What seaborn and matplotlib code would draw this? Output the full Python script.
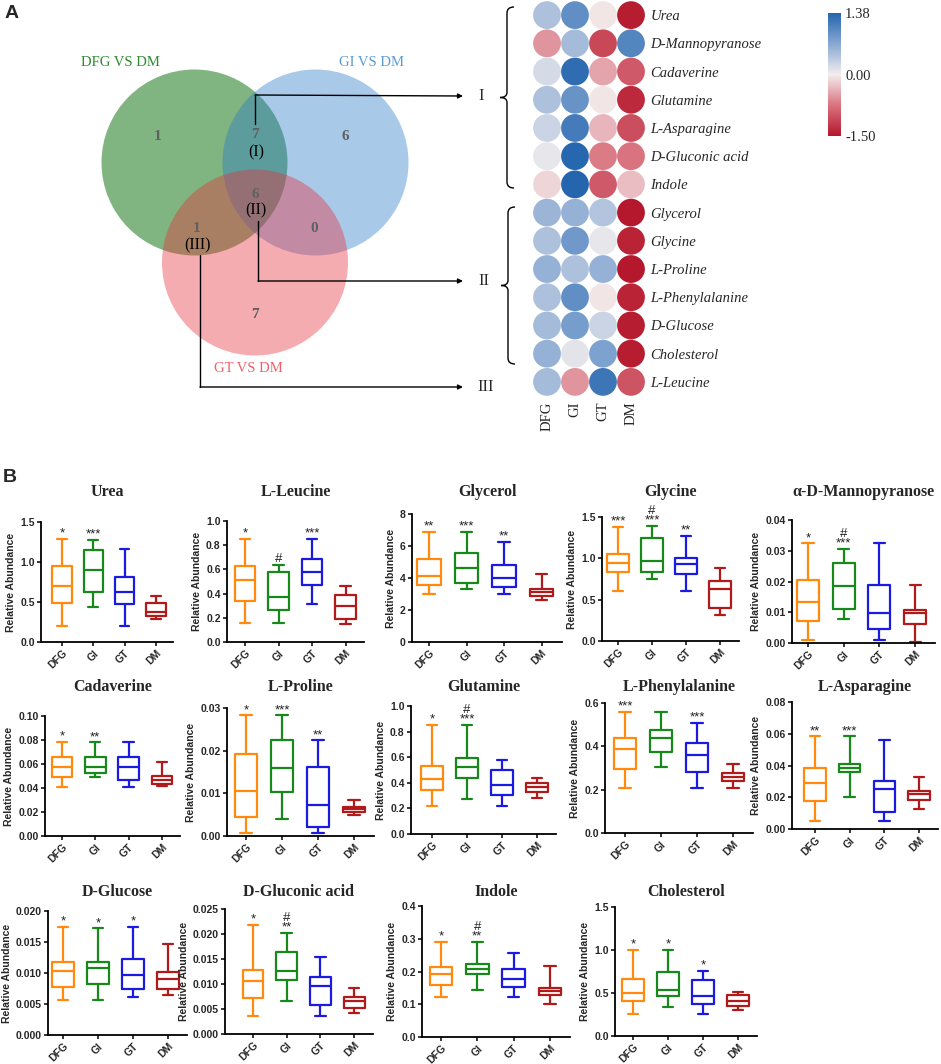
import numpy as np
import pandas as pd
import matplotlib
matplotlib.use('Agg')
import matplotlib.pyplot as plt
import seaborn as sns
from matplotlib.patches import Circle, PathPatch
from matplotlib.path import Path
from matplotlib.colors import LinearSegmentedColormap, TwoSlopeNorm
from matplotlib.cm import ScalarMappable
from matplotlib.ticker import MultipleLocator, FormatStrFormatter

W, H = 941, 1064
sns.set_style('white')
plt.rcParams['font.family'] = ['Liberation Sans', 'DejaVu Sans']
SERIF = ['Liberation Serif', 'DejaVu Serif']

# ---------------- data ----------------
groups = ['DFG', 'GI', 'GT', 'DM']
group_colors = ['#ff8a0d', '#17891a', '#1a1ae0', '#b01a1a']

venn_sets = ['DFG VS DM', 'GI VS DM', 'GT VS DM']
venn_regions = ['DFG', 'DFG&GI', 'GI', 'DFG&GI&GT', 'DFG&GT', 'GI&GT', 'GT']
venn_counts = [1, 7, 6, 6, 1, 0, 7]
cluster_labels = ['I', 'II', 'III']

heat_metabolites = ['Urea', 'D-Mannopyranose', 'Cadaverine', 'Glutamine', 'L-Asparagine',
                    'D-Gluconic acid', 'Indole', 'Glycerol', 'Glycine', 'L-Proline',
                    'L-Phenylalanine', 'D-Glucose', 'Cholesterol', 'L-Leucine']
heat_DFG = [0.45, -0.55, 0.20, 0.45, 0.25, 0.08, -0.15, 0.55, 0.45, 0.60, 0.45, 0.50, 0.60, 0.50]
heat_GI = [0.95, 0.50, 1.30, 0.90, 1.15, 1.35, 1.38, 0.60, 0.85, 0.45, 0.95, 0.80, 0.10, -0.55]
heat_GT = [-0.05, -1.10, -0.45, -0.05, -0.35, -0.70, -0.95, 0.40, 0.08, 0.60, -0.05, 0.25, 0.75, 1.20]
heat_DM = [-1.45, 1.05, -0.95, -1.35, -1.05, -0.75, -0.30, -1.50, -1.40, -1.50, -1.40, -1.45, -1.45, -1.00]
heat_vmin, heat_vmax = -1.50, 1.38

# box summaries per group: [min, q1, median, q3, max]
box_titles = ['Urea', 'L-Leucine', 'Glycerol', 'Glycine', 'α-D-Mannopyranose',
              'Cadaverine', 'L-Proline', 'Glutamine', 'L-Phenylalanine', 'L-Asparagine',
              'D-Glucose', 'D-Gluconic acid', 'Indole', 'Cholesterol']
urea = [[0.195, 0.485, 0.70, 0.95, 1.29], [0.435, 0.62, 0.90, 1.15, 1.28],
        [0.195, 0.47, 0.63, 0.81, 1.16], [0.29, 0.33, 0.38, 0.485, 0.57]]
leucine = [[0.157, 0.34, 0.51, 0.63, 0.85], [0.157, 0.265, 0.375, 0.58, 0.64],
           [0.315, 0.47, 0.58, 0.685, 0.85], [0.15, 0.19, 0.30, 0.39, 0.46]]
glycerol = [[2.97, 3.56, 4.15, 5.2, 6.9], [3.33, 3.7, 4.65, 5.55, 6.9],
            [2.97, 3.46, 3.98, 4.8, 6.28], [2.62, 2.87, 3.1, 3.29, 4.25]]
glycine = [[0.605, 0.83, 0.94, 1.05, 1.38], [0.75, 0.84, 0.97, 1.25, 1.39],
           [0.605, 0.815, 0.935, 1.0, 1.27], [0.32, 0.40, 0.63, 0.73, 0.88]]
mannopyranose = [[0.0011, 0.0072, 0.0133, 0.0205, 0.0324], [0.0078, 0.0111, 0.0186, 0.026, 0.0305],
                 [0.0011, 0.0044, 0.0097, 0.0188, 0.0324], [0.0002, 0.0062, 0.0097, 0.0108, 0.0187]]
cadaverine = [[0.0406, 0.0494, 0.0578, 0.0656, 0.0783], [0.0494, 0.0522, 0.0572, 0.0656, 0.078],
              [0.0406, 0.047, 0.0578, 0.0656, 0.078], [0.0417, 0.0433, 0.047, 0.050, 0.062]]
proline = [[0.0006, 0.0045, 0.0106, 0.0193, 0.0283], [0.004, 0.0103, 0.0159, 0.0226, 0.0283],
           [0.0006, 0.0022, 0.0073, 0.0162, 0.0224], [0.0049, 0.0056, 0.0063, 0.0069, 0.0085]]
glutamine = [[0.22, 0.345, 0.43, 0.535, 0.85], [0.27, 0.44, 0.52, 0.59, 0.85],
             [0.22, 0.305, 0.38, 0.50, 0.575], [0.28, 0.332, 0.366, 0.395, 0.44]]
phenylalanine = [[0.21, 0.294, 0.388, 0.438, 0.56], [0.303, 0.376, 0.438, 0.476, 0.56],
                 [0.21, 0.281, 0.36, 0.417, 0.507], [0.21, 0.24, 0.26, 0.275, 0.317]]
asparagine = [[0.005, 0.0177, 0.0288, 0.0383, 0.0583], [0.020, 0.0356, 0.0387, 0.0408, 0.0583],
              [0.005, 0.0105, 0.0253, 0.0303, 0.0558], [0.0124, 0.0183, 0.0219, 0.0242, 0.033]]
glucose = [[0.0056, 0.0077, 0.0103, 0.0118, 0.0175], [0.0056, 0.0082, 0.0108, 0.0118, 0.0172],
           [0.0062, 0.0075, 0.0096, 0.0123, 0.0175], [0.0064, 0.0075, 0.0091, 0.0101, 0.0146]]
gluconic = [[0.0037, 0.0073, 0.0107, 0.0128, 0.0218], [0.0066, 0.0109, 0.0127, 0.0165, 0.0203],
            [0.0037, 0.0058, 0.0097, 0.0115, 0.0155], [0.0043, 0.0052, 0.0067, 0.0075, 0.0093]]
indole = [[0.123, 0.160, 0.193, 0.215, 0.290], [0.145, 0.193, 0.208, 0.222, 0.290],
          [0.123, 0.152, 0.178, 0.208, 0.255], [0.100, 0.128, 0.140, 0.150, 0.217]]
cholesterol = [[0.26, 0.41, 0.495, 0.662, 1.0], [0.34, 0.46, 0.534, 0.74, 1.0],
               [0.26, 0.37, 0.464, 0.65, 0.76], [0.304, 0.35, 0.41, 0.48, 0.506]]
box_stats = [urea, leucine, glycerol, glycine, mannopyranose, cadaverine, proline, glutamine,
             phenylalanine, asparagine, glucose, gluconic, indole, cholesterol]

box_sig = [['*', '***', '', ''], ['*', '#', '***', ''], ['**', '***', '**', ''],
           ['***', '#\n***', '**', ''], ['*', '#\n***', '', ''], ['*', '**', '', ''],
           ['*', '***', '**', ''], ['*', '#\n***', '', ''], ['***', '', '***', ''],
           ['**', '***', '', ''], ['*', '*', '*', ''], ['*', '#\n**', '', ''],
           ['*', '#\n**', '', ''], ['*', '*', '*', '']]
box_ymax = [1.5, 1.0, 8, 1.5, 0.04, 0.10, 0.03, 1.0, 0.6, 0.08, 0.020, 0.025, 0.4, 1.5]
box_ystep = [0.5, 0.2, 2, 0.5, 0.01, 0.02, 0.01, 0.2, 0.2, 0.02, 0.005, 0.005, 0.1, 0.5]
box_yfmt = ['%.1f', '%.1f', '%d', '%.1f', '%.2f', '%.2f', '%.2f', '%.1f', '%.1f', '%.2f',
            '%.3f', '%.3f', '%.1f', '%.1f']

# ---------------- layout (pixels) ----------------
# left spine, first category centre, category spacing, top, bottom, title y
box_layout = [
    (41, 62, 31.3, 522, 642, 492), (227, 245, 33.5, 521, 642, 492),
    (412, 429, 37.5, 514, 642, 492), (602, 618, 34, 517, 641, 492),
    (792, 808, 35.7, 520, 643, 492),
    (45, 62, 33.3, 716, 836, 687), (227, 246, 36, 708, 836, 687),
    (411, 432, 35, 706, 834, 687), (605, 625, 36, 703, 833, 687),
    (792, 815, 34.7, 702, 829, 687),
    (48, 63, 35, 911, 1035, 892), (225, 253, 33.7, 909, 1034, 892),
    (422, 441, 36.3, 906, 1037, 892), (615, 633, 35, 907, 1036, 892),
]


def px_rect(left, top, right, bottom):
    return [left / W, 1 - bottom / H, (right - left) / W, (bottom - top) / H]


fig = plt.figure(figsize=(W / 100, H / 100), dpi=100)

# ---------------- overlay (venn, arrows, braces) ----------------
ov = fig.add_axes([0, 0, 1, 1])
ov.set_xlim(0, W)
ov.set_ylim(H, 0)
ov.axis('off')
ov.patch.set_alpha(0)

venn_circles = [((194.5, 162.5), '#3c8c3c', 0.65), ((315.5, 162.5), '#2a78c8', 0.4),
                ((255, 262.5), '#e8303c', 0.4)]
for (c, col, a) in venn_circles:
    ov.add_patch(Circle(c, 93, fc=col, ec='none', alpha=a))

set_label_pos = [(120, 62), (372, 62), (248, 369)]
set_label_col = ['#2d8a2d', '#5b9bd5', '#f0606a']
for lab, pos, col in zip(venn_sets, set_label_pos, set_label_col):
    ov.text(pos[0], pos[1], lab, color=col, ha='center', va='center', fontsize=10.5, family=SERIF)

count_pos = [(158, 136), (255, 135), (345, 136), (255, 194), (197, 229), (314, 229), (255, 314)]
for n, pos in zip(venn_counts, count_pos):
    ov.text(pos[0], pos[1], str(n), color='#606060', ha='center', va='center', fontsize=11,
            fontweight='bold', family=SERIF)

region_lab_pos = [(256, 152), (256, 210), (198, 245)]
for lab, pos in zip(cluster_labels, region_lab_pos):
    ov.text(pos[0], pos[1], '(%s)' % lab, color='black', ha='center', va='center', fontsize=11.5,
            family=SERIF)

paths = [[(255, 124), (255, 95), (463, 96)], [(258, 221), (258, 281), (463, 281)],
         [(200, 255), (200, 387), (463, 387)]]
roman_pos = [(481, 96), (484, 281), (486, 387)]
for p, lab, rp in zip(paths, cluster_labels, roman_pos):
    ov.plot([p[0][0], p[1][0]], [p[0][1], p[1][1]], color='black', lw=1.0)
    ov.annotate('', xy=p[2], xytext=p[1],
                arrowprops=dict(arrowstyle='-|>', color='black', lw=1.0, mutation_scale=7,
                                shrinkA=0, shrinkB=0))
    ov.text(rp[0], rp[1], lab, ha='center', va='center', fontsize=12, family=SERIF)


def brace(x, y0, y1):
    ym = (y0 + y1) / 2
    verts = [(x + 10, y0), (x + 3, y0), (x + 3, y0 + 6), (x + 3, ym - 5),
             (x + 3, ym), (x - 4, ym), (x + 3, ym), (x + 3, ym + 5),
             (x + 3, y1 - 6), (x + 3, y1), (x + 10, y1)]
    codes = [Path.MOVETO, Path.CURVE3, Path.CURVE3, Path.LINETO, Path.CURVE3, Path.CURVE3,
             Path.CURVE3, Path.CURVE3, Path.LINETO, Path.CURVE3, Path.CURVE3]
    ov.add_patch(PathPatch(Path(verts, codes), fc='none', ec='black', lw=1.0))


brace(504, 7, 188)
brace(505, 207, 364)

ov.text(5, 14, 'A', fontsize=14, fontweight='bold', ha='left', va='center')
ov.text(3, 477, 'B', fontsize=14, fontweight='bold', ha='left', va='center')

# ---------------- dot heatmap ----------------
cmap = LinearSegmentedColormap.from_list('rb', ['#b5172c', '#d9737f', '#f3eeee', '#87a8d2', '#2465ae'])
norm = TwoSlopeNorm(vmin=heat_vmin, vcenter=0.0, vmax=heat_vmax)

hx = fig.add_axes(px_rect(533, 1, 645, 396))
hx.patch.set_alpha(0)
heat_cols = [heat_DFG, heat_GI, heat_GT, heat_DM]
hdf = pd.DataFrame({
    'x': np.repeat(np.arange(len(groups)), len(heat_metabolites)),
    'y': np.tile(np.arange(len(heat_metabolites)), len(groups)),
    'v': np.concatenate(heat_cols),
})
sns.scatterplot(data=hdf, x='x', y='y', hue='v', palette=cmap, hue_norm=norm, s=400,
                linewidth=0, legend=False, ax=hx)
hx.set_xlim(-0.5, len(groups) - 0.5)
hx.set_ylim(len(heat_metabolites) - 0.5, -0.5)
for sp in hx.spines.values():
    sp.set_visible(False)
hx.set_xlabel('')
hx.set_ylabel('')
hx.set_xticks(np.arange(len(groups)))
hx.set_xticklabels(groups, rotation=90, family=SERIF, fontsize=10.5)
hx.yaxis.tick_right()
hx.set_yticks(np.arange(len(heat_metabolites)))
hx.set_yticklabels(heat_metabolites, family=SERIF, fontsize=10.5, style='italic')
hx.tick_params(length=0, pad=4)

cax = fig.add_axes(px_rect(828, 13, 841, 136))
cb = fig.colorbar(ScalarMappable(norm=norm, cmap=cmap), cax=cax,
                  ticks=[heat_vmin, 0.0, heat_vmax])
cb.outline.set_visible(False)
cax.set_yticklabels(['%.2f' % t for t in [heat_vmin, 0.0, heat_vmax]], family=SERIF, fontsize=10.5)
cax.tick_params(length=0, pad=3)

# ---------------- box plots ----------------
for title, stats, sig, ymax, ystep, yfmt, lay in zip(box_titles, box_stats, box_sig, box_ymax,
                                                    box_ystep, box_yfmt, box_layout):
    left, c0, s, top, bot, ty = lay
    xl = -(c0 - left) / s
    right = c0 + 3.55 * s
    ax = fig.add_axes(px_rect(left, top, right, bot))
    ax.patch.set_alpha(0)
    df = pd.DataFrame({'group': np.repeat(groups, 5), 'value': np.concatenate(stats)})
    sns.boxplot(data=df, x='group', y='value', hue='group', order=groups, hue_order=groups,
                palette=group_colors, fill=False, whis=(0, 100), width=0.62, linewidth=1.6,
                legend=False, ax=ax)
    ax.set_xlim(xl, 3.55)
    ax.set_ylim(0, ymax)
    ax.yaxis.set_major_locator(MultipleLocator(ystep))
    ax.yaxis.set_major_formatter(FormatStrFormatter(yfmt))
    for k in ['top', 'right']:
        ax.spines[k].set_visible(False)
    for k in ['left', 'bottom']:
        ax.spines[k].set_color('black')
        ax.spines[k].set_linewidth(1.3)
    ax.tick_params(direction='out', length=3, width=1.1, color='black', labelsize=7.5, pad=1.5,
                   left=True, bottom=True)
    for lbl in ax.get_yticklabels():
        lbl.set_fontweight('bold')
    ax.set_xticks(range(len(groups)))
    ax.set_xticklabels(groups, rotation=45, ha='right', rotation_mode='anchor',
                       fontweight='bold', fontsize=7.5)
    ax.set_xlabel('')
    ax.set_ylabel('Relative Abundance', fontsize=7.5, fontweight='bold', labelpad=3)
    for i, (st, sg) in enumerate(zip(stats, sig)):
        if sg:
            ax.annotate(sg, xy=(i, st[4]), xytext=(0, -0.5), textcoords='offset points',
                        ha='center', va='bottom', fontsize=9.5, linespacing=0.72,
                        color='#222222')
    cx = (left + right) / 2
    fig.text(cx / W, 1 - ty / H, title, ha='center', va='center', fontsize=11.5,
             fontweight='bold', family=SERIF)

fig.savefig('out.png', dpi=100, facecolor='white')
